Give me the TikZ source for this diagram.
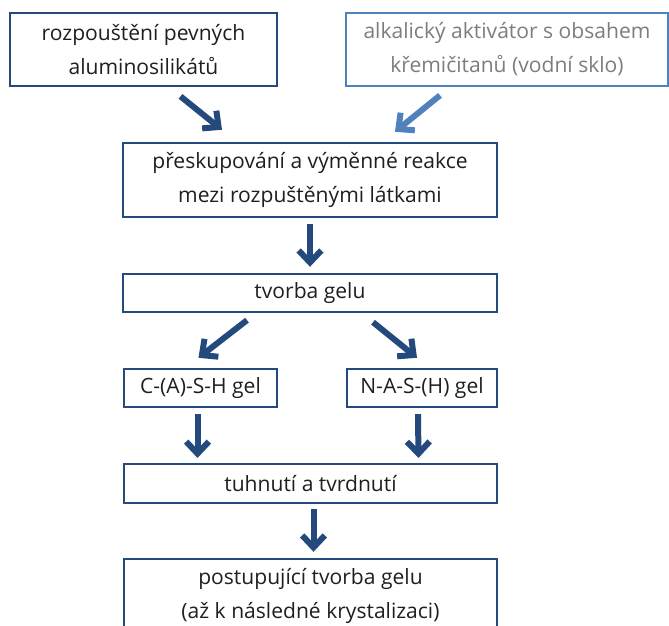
\documentclass[tikz,border=0pt]{standalone}
\usepackage{fontspec}
\setmainfont{Open Sans}
\usepackage{tikz}
\usetikzlibrary{
    arrows.meta,
    calc,
    positioning
}
\definecolor{boxblue}{RGB}{36,74,125}
\definecolor{lightblue}{RGB}{79,129,189}
\definecolor{greytext}{RGB}{125,125,125}
\tikzset{
    stepbox/.style={draw=boxblue, line width=1.8pt, align=center, inner sep=0pt,
        text=black!88, font=\fontsize{15.8}{25.5}\selectfont},
    flow/.style={draw=boxblue, line width=4.5pt, line cap=butt,
        -{Straight Barb[length=9pt, width=17pt, line width=4.5pt]}}
}

\begin{document}
\begin{tikzpicture}[x=0.75pt, y=-0.75pt]
    \clip (0, 0) rectangle (669, 626);
    % boxes
    \node[stepbox, minimum width=200pt, minimum height=55pt] (rozp) at (143.5, 49.5)
        {rozpouštění pevných\\aluminosilikátů};
    \node[stepbox, draw=lightblue, text=greytext, minimum width=241.5pt, minimum height=55pt] (aktiv) at (507, 49.5)
        {alkalický aktivátor s obsahem\\křemičitanů (vodní sklo)};
    \node[stepbox, minimum width=280.5pt, minimum height=55.5pt] (presk) at (310, 180)
        {přeskupování a výměnné reakce\\mezi rozpuštěnými látkami};
    \node[stepbox, minimum width=280.5pt, minimum height=28.5pt] (tvorba) at (310, 293) {tvorba gelu};
    \node[stepbox, minimum width=115pt, minimum height=28.5pt] (cash) at (200.5, 388) {C-(A)-S-H gel};
    \node[stepbox, minimum width=112.5pt, minimum height=28.5pt] (nash) at (422, 388) {N-A-S-(H) gel};
    \node[stepbox, minimum width=280pt, minimum height=29pt] (tuhnuti) at (310.5, 483.5) {tuhnutí a tvrdnutí};
    \node[stepbox, minimum width=280pt, minimum height=55.5pt] (postup) at (310.5, 596)
        {postupující tvorba gelu\\(až k následné krystalizaci)};
    % arrows
    \draw[flow] ($(rozp.south)+(37, 9)$) -- ($(presk.north)+(-88, -12)$);
    \draw[flow, draw=lightblue] ($(aktiv.south)+(-67, 8)$) -- ($(presk.north)+(85, -10)$);
    \draw[flow] ($(presk.south)+(0, 6)$) -- ($(tvorba.north)+(0, -6)$);
    \draw[flow] ($(tvorba.south)+(-63, 7)$) -- ($(cash.north)+(-2, -10)$);
    \draw[flow] ($(tvorba.south)+(63, 9)$) -- ($(nash.north)+(-5, -10)$);
    \draw[flow] ($(cash.south)+(-3, 6)$) -- ($(tuhnuti.north)+(-113, -5)$);
    \draw[flow] ($(nash.south)+(-4, 6)$) -- ($(tuhnuti.north)+(108, -5)$);
    \draw[flow] ($(tuhnuti.south)+(3, 5)$) -- ($(postup.north)+(3, -6)$);
\end{tikzpicture}
\end{document}
